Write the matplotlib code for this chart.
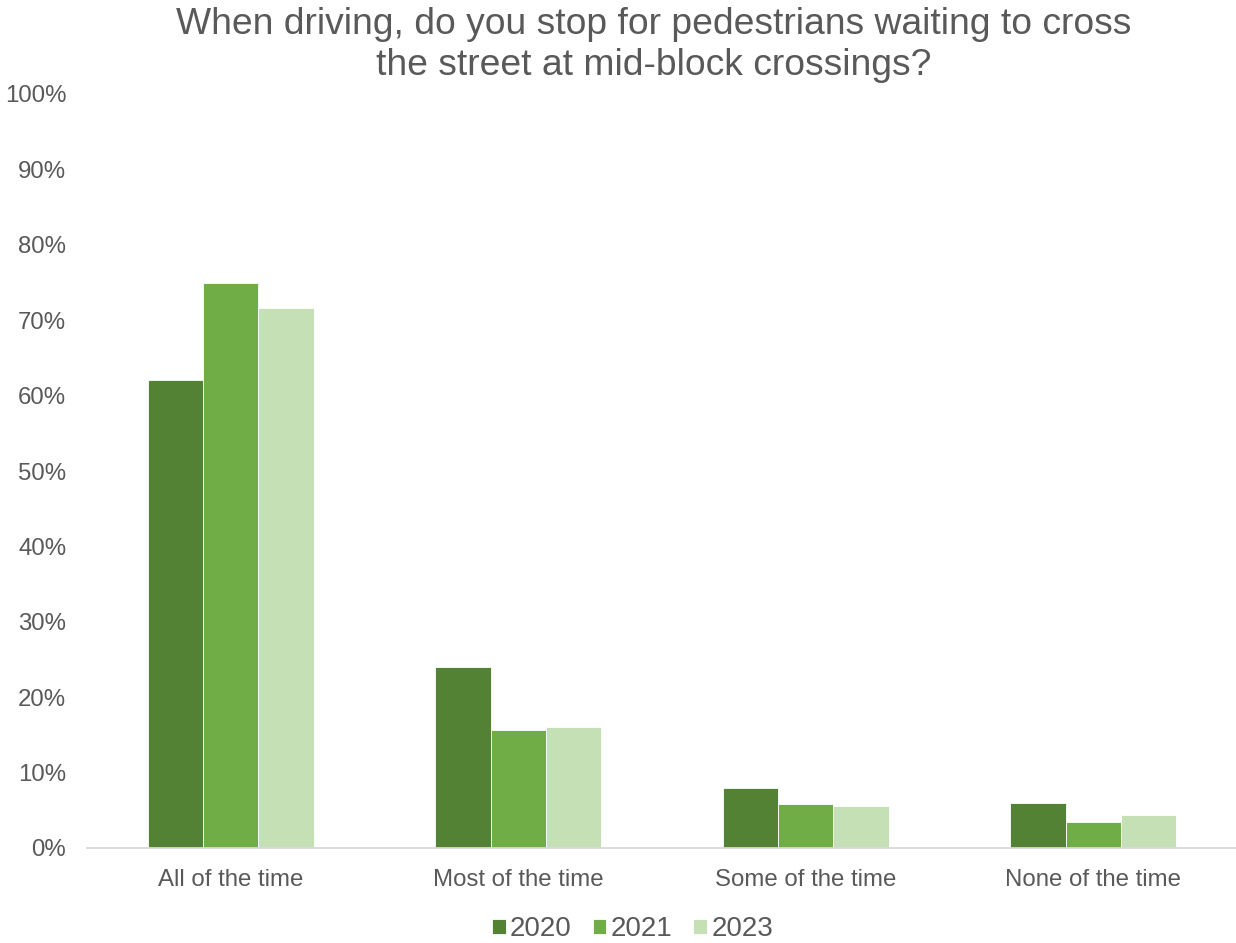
import matplotlib
matplotlib.use("Agg")
import matplotlib.pyplot as plt
import numpy as np

categories = ["All of the time", "Most of the time", "Some of the time", "None of the time"]
years = ["2020", "2021", "2023"]
values_2020 = [62.1, 24.0, 8.0, 6.0]
values_2021 = [74.9, 15.6, 5.8, 3.5]
values_2023 = [71.6, 16.1, 5.6, 4.4]
colors = ["#548235", "#70AD47", "#C5E0B4"]
yticks = [0, 10, 20, 30, 40, 50, 60, 70, 80, 90, 100]
title = "When driving, do you stop for pedestrians waiting to cross\nthe street at mid-block crossings?"

text_color = "#595959"
plt.rcParams["font.family"] = ["Liberation Sans", "DejaVu Sans"]

fig = plt.figure(figsize=(12.36, 9.43), dpi=100)
ax = fig.add_axes([87 / 1236, 95 / 943, 1150 / 1236, 754 / 943])

x = np.arange(len(categories))
width = 0.193
series = [values_2020, values_2021, values_2023]
for i, (vals, col, lab) in enumerate(zip(series, colors, years)):
    ax.bar(x + (i - 1) * width, vals, width, color=col, label=lab,
           edgecolor="white", linewidth=0.6)

ax.set_xlim(-0.5, len(categories) - 0.5)
ax.set_ylim(0, 100)
ax.set_yticks(yticks)
ax.set_yticklabels([f"{t}%" for t in yticks])
ax.set_xticks(x)
ax.set_xticklabels(categories)
ax.tick_params(axis="both", length=0, labelsize=17.3, colors=text_color)
ax.tick_params(axis="y", pad=15)
ax.tick_params(axis="x", pad=15)

for s in ["top", "right", "left"]:
    ax.spines[s].set_visible(False)
ax.spines["bottom"].set_color("#D9D9D9")
ax.spines["bottom"].set_linewidth(1.3)

fig.text(0.529, 0.993, title, ha="center", va="top", fontsize=26.8,
         color=text_color, linespacing=1.25)

leg = fig.legend(loc="center", ncol=3, frameon=False, fontsize=20,
                 handlelength=0.5, handleheight=0.5, handletextpad=0.15,
                 columnspacing=0.75)
for t in leg.get_texts():
    t.set_color(text_color)
leg.set_bbox_to_anchor((0.5117, 0.0145), transform=fig.transFigure)

fig.savefig("out.png", dpi=100)
